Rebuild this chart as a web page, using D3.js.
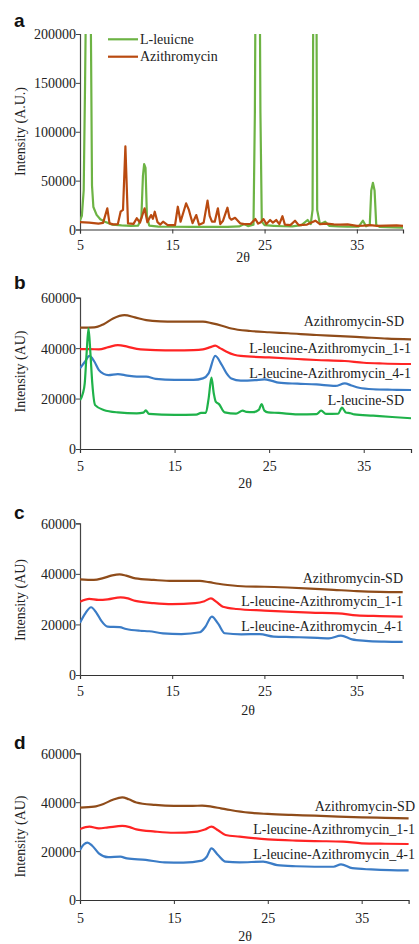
<!DOCTYPE html>
<html><head><meta charset="utf-8">
<script src="https://cdn.jsdelivr.net/npm/d3@7"></script>
<style>
body{margin:0;background:#fff}
svg{display:block}
text{fill:#222}
</style>
</head><body>
<svg id="chart" width="419" height="944"></svg>
<script>
// ---------- DATA ----------
const xTicks = [5, 15, 25, 35];
const yTicksA = [0, 50000, 100000, 150000, 200000];
const yTicksBCD = [0, 20000, 40000, 60000];
const legendA = ["L-leuicne", "Azithromycin"];
const labelsB = ["Azithromycin-SD", "L-leucine-Azithromycin_1-1", "L-leucine-Azithromycin_4-1", "L-leucine-SD"];
const labelsCD = ["Azithromycin-SD", "L-leucine-Azithromycin_1-1", "L-leucine-Azithromycin_4-1"];

// Panel a (values above 200000 are clipped at the top of the plot)
const leucineA = [[5,9000],[5.2,14000],[5.4,40000],[5.55,150000],[5.72,300000],[6.1,300000],[6.2,180000],[6.3,45000],[6.45,23000],[6.8,15000],[7.2,10500],[7.7,8000],[8.5,5000],[9.5,4200],[10.5,3800],[11.3,4000],[11.65,12000],[11.82,55000],[11.95,67000],[12.1,63000],[12.25,14000],[12.5,4000],[13.5,3000],[15,2800],[17,2700],[19,2600],[21,2600],[22.3,3200],[22.8,5500],[23.2,3500],[23.8,5000],[23.95,120000],[24.05,300000],[24.45,300000],[24.55,120000],[24.7,8000],[25,4500],[26,3800],[27,3300],[28,3200],[29,4500],[29.66,9700],[30,5500],[30.2,20000],[30.3,300000],[30.6,300000],[30.7,20000],[31,5500],[31.57,8000],[32,3800],[33,3200],[34,3000],[35.2,3000],[35.66,9000],[36,3300],[36.4,5000],[36.56,40000],[36.74,47800],[36.92,40000],[37.1,4500],[37.5,2600],[39,2200],[40,2000]];
const azithroA = [[5,7500],[6,7000],[7,6000],[7.5,6800],[7.96,21700],[8.2,6300],[8.6,5200],[9.1,5500],[9.4,18200],[9.66,20000],[9.92,85000],[10.2,6300],[10.8,5800],[11.15,11500],[11.5,7000],[12.0,21700],[12.3,7500],[12.7,14800],[12.9,11000],[13.1,18200],[13.4,7500],[13.7,5000],[14.0,8000],[14.5,4500],[15.3,4500],[15.6,23300],[15.9,8000],[16.28,20000],[16.5,26800],[16.8,20000],[17.0,13000],[17.2,6500],[17.6,14800],[17.9,4800],[18.4,7000],[18.82,29500],[19.05,14000],[19.3,8000],[19.6,8000],[19.94,21700],[20.2,5500],[20.5,9000],[20.98,22300],[21.2,12000],[21.4,10000],[21.8,12000],[22.1,9000],[22.35,6300],[22.8,5500],[23.5,5800],[24.0,10700],[24.3,6000],[24.6,7500],[24.88,10700],[25.2,5500],[25.6,9700],[25.9,7000],[26.26,9700],[26.6,5500],[26.94,13600],[27.2,5000],[27.8,4500],[28.3,9000],[28.7,4500],[29.6,5000],[30.5,9000],[31,5500],[31.75,6000],[32.5,5200],[33.2,5000],[34,5200],[35,3700],[35.7,4000],[36.45,4500],[37.2,3800],[38.2,4000],[39.3,4200],[40,3700]];

// Panel b
const azSDb = [[5,48100],[6.5,48200],[7.5,49500],[8.5,51800],[9.7,53100],[10.8,52200],[12,51100],[13.5,50600],[15,50500],[17,50500],[18,50500],[19,49800],[20,48900],[21,47800],[23,46800],[25,46300],[27,45900],[30,45200],[32.5,44800],[35,44300],[37.5,43800],[40,43500]];
const mix11b = [[5,39600],[6,39600],[7,39500],[8,40400],[9,41200],[10,40600],[11,39700],[13,39200],[15,39100],[17,39200],[18,39500],[18.8,40400],[19.3,41000],[19.8,40000],[20.5,38600],[21.3,37400],[22,36900],[25,36300],[28,35700],[30,35300],[33,34900],[35,34200],[37,33900],[40,33700]];
const mix41b = [[5,32000],[5.5,34500],[6,36900],[6.5,34800],[7,31300],[7.5,29800],[8,29300],[9,29700],[10,29100],[11,28700],[12,28700],[13,27800],[15,27400],[17,27400],[18,28000],[18.6,30000],[19.3,36900],[20,33300],[20.5,30000],[21,28000],[22,27100],[23.5,27300],[24.5,27600],[25.3,27000],[26,26300],[28,25900],[30,25600],[32,25000],[33,26000],[33.7,25200],[34.5,24300],[36,23700],[38,23500],[40,23400]];
const leuSDb = [[5,19400],[5.3,22000],[5.5,26000],[5.7,38000],[5.9,47800],[6.1,38000],[6.3,26000],[6.6,17400],[7.5,15500],[9,14500],[11,14100],[11.7,14400],[11.95,15300],[12.3,13900],[15,13500],[17.3,13600],[17.8,14300],[18.3,14300],[18.6,20000],[18.9,28300],[19.15,22000],[19.35,18800],[19.7,17800],[20.3,14500],[21.5,14000],[22.2,15200],[22.6,14700],[23.3,14600],[23.9,15500],[24.2,17800],[24.5,15200],[24.9,14500],[26,14300],[28,13700],[30,13800],[30.5,15200],[31,13900],[32.3,14000],[32.7,16400],[33.1,14500],[33.6,14200],[34,13700],[36,13200],[38,12700],[40,12200]];

// Panel c
const azSDc = [[5,37800],[6.5,37600],[7.5,38300],[8.5,39400],[9.3,39800],[10,39300],[11,38200],[13,37600],[15,37200],[17,37200],[18,37200],[19,36700],[20,36100],[21,35600],[23,35000],[25,34900],[27.5,34600],[30,34200],[32.5,33700],[35,33200],[37.5,32900],[40,32800]];
const mix11c = [[5,29000],[6,30100],[7,29700],[8,29900],[9.4,30700],[10.2,30300],[11,29300],[13,28400],[15,28000],[17.5,28400],[18.5,29200],[19.2,30300],[19.8,28900],[20.5,27000],[22,26100],[25,25500],[28,25000],[30,24700],[33,24400],[35,23600],[37.5,23300],[40,23100]];
const mix41c = [[5,20700],[5.6,24500],[6.2,26800],[6.8,24500],[7.3,21500],[8,19100],[9.3,18900],[10,18200],[11.5,17500],[12.5,17300],[14,16500],[16,16200],[18,16900],[18.6,19100],[19.3,23100],[20,20200],[20.7,16500],[22.5,16100],[24.5,16200],[26,15200],[28,15000],[30,14800],[32,14500],[33.3,15600],[34.5,14100],[36,13500],[38,13200],[40,13100]];

// Panel d
const azSDd = [[5,37800],[6.5,38200],[7.5,39300],[8.5,41000],[9.5,42000],[10.2,41200],[11,39900],[13,38900],[15,38500],[17,38500],[18,38600],[19,38200],[20,37500],[21,36800],[23,35700],[25,35200],[27.5,34800],[30,34500],[32.5,34100],[35,33800],[37.5,33600],[40,33400]];
const mix11d = [[5,29000],[6,30000],[7,29300],[8,29700],[9.5,30300],[10.3,29800],[11,28900],[13,28000],[15,27500],[17.5,28000],[18.3,28800],[19,30000],[19.7,28500],[20.5,26600],[22,25900],[25,24800],[28,24300],[30,24100],[33,23900],[35,23200],[37.5,23000],[40,22900]];
const mix41d = [[5,20500],[5.4,22700],[5.8,23500],[6.3,22200],[7,19100],[8,17500],[9.3,17700],[10,17000],[12,16400],[14,15400],[16,15300],[18,16100],[18.5,17700],[19,21100],[19.7,18400],[20.5,15700],[22,15400],[24.5,15700],[26,14300],[28,13800],[30,13600],[32,13600],[32.8,14600],[34,13000],[36,12500],[38,12200],[40,12100]];

// ---------- DRAW ----------
const SERIF = '"Liberation Serif","Times New Roman",Times,serif';
const SANS = '"Liberation Sans",Arial,Helvetica,sans-serif';
const svg = d3.select("#chart");
const COL = {
  greenA: "#6db344", brownA: "#b94a10",
  brown: "#8f4c1a", red: "#ff2424", blue: "#3b7cc6", green: "#1fb24a"
};

function txt(sel) {
  return sel.style("font-family", SERIF).style("font-size", "14px").style("fill", "#222");
}

function panel(cfg) {
  const x = d3.scaleLinear().domain([5, 40]).range([cfg.left, cfg.right]);
  const y = d3.scaleLinear().domain([0, cfg.yMax]).range([cfg.bottom, cfg.top]);
  const g = svg.append("g");
  const clipId = "clip-" + cfg.letter;
  svg.append("clipPath").attr("id", clipId).append("rect")
    .attr("x", cfg.left).attr("y", cfg.top).attr("width", cfg.right - cfg.left + 2).attr("height", cfg.bottom - cfg.top + 2);

  // axes
  const xAxis = d3.axisBottom(x).tickValues(xTicks).tickSize(4).tickFormat(d3.format("d"));
  const gx = g.append("g").attr("transform", `translate(0,${cfg.bottom})`).call(xAxis);
  gx.select(".domain").attr("stroke", "#333").attr("stroke-width", 1.2);
  gx.selectAll(".tick line").attr("stroke", "#333");
  txt(gx.selectAll(".tick text")).attr("dy", null).attr("y", cfg.xLabOff).attr("dominant-baseline", "central");

  const yAxis = d3.axisLeft(y).tickValues(cfg.yTicks).tickSize(4).tickFormat(d3.format("d"));
  const gy = g.append("g").attr("transform", `translate(${cfg.left},0)`).call(yAxis);
  gy.select(".domain").attr("stroke", "#444").attr("stroke-width", 1.2);
  gy.selectAll(".tick line").attr("stroke", "#444");
  txt(gy.selectAll(".tick text")).attr("x", -4).attr("dy", "0.35em");

  // titles
  txt(g.append("text")).attr("x", cfg.xTitleX).attr("y", cfg.bottom + cfg.xTitleOff)
    .attr("text-anchor", "middle").attr("dominant-baseline", "central").text("2θ");
  txt(g.append("text")).attr("transform", `translate(20,${cfg.yTitleY}) rotate(-90)`)
    .attr("text-anchor", "middle").attr("dominant-baseline", "central").text(cfg.yTitle);
  g.append("text").attr("x", 14).attr("y", cfg.letterY)
    .style("font-family", SANS).style("font-size", "19px").style("font-weight", "bold").style("fill", "#111")
    .text(cfg.letter);

  // series
  const line = d3.line().x(d => x(d[0])).y(d => y(d[1])).curve(cfg.curve);
  const lines = g.append("g").attr("clip-path", `url(#${clipId})`);
  cfg.series.forEach(s => {
    lines.append("path").datum(s.data).attr("fill", "none").attr("stroke", s.color)
      .attr("stroke-width", 2.2).attr("stroke-linejoin", "round").attr("d", line);
  });

  // series labels
  (cfg.labels || []).forEach(l => {
    txt(g.append("text")).attr("x", l.x).attr("y", l.y).attr("text-anchor", "end")
      .attr("dominant-baseline", "central").text(l.text);
  });
  return g;
}

// Panel a
const ga = panel({
  letter: "a", letterY: 27, left: 80, right: 403, top: 34, bottom: 229.5, yMax: 200000,
  yTicks: yTicksA, xLabOff: 15.5, xTitleOff: 27.5, xTitleX: 243, yTitleY: 131.5,
  yTitle: "Intensity (A.U.)", curve: d3.curveLinear,
  series: [{data: leucineA, color: COL.greenA}, {data: azithroA, color: COL.brownA}]
});
[[legendA[0], COL.greenA, 39.3], [legendA[1], COL.brownA, 56.7]].forEach(([t, c, yy]) => {
  ga.append("line").attr("x1", 108).attr("x2", 138).attr("y1", yy).attr("y2", yy)
    .attr("stroke", c).attr("stroke-width", 2.2);
  txt(ga.append("text")).attr("x", 140).attr("y", yy).attr("dominant-baseline", "central").text(t);
});

// Panel b
panel({
  letter: "b", letterY: 289, left: 80, right: 411, top: 297.7, bottom: 449, yMax: 60000,
  yTicks: yTicksBCD, xLabOff: 17.5, xTitleOff: 34, xTitleX: 245, yTitleY: 371.5,
  yTitle: "Intensity (AU)", curve: d3.curveMonotoneX,
  series: [{data: azSDb, color: COL.brown}, {data: mix11b, color: COL.red},
           {data: mix41b, color: COL.blue}, {data: leuSDb, color: COL.green}],
  labels: [{text: labelsB[0], x: 404, y: 321}, {text: labelsB[1], x: 411, y: 348.3},
           {text: labelsB[2], x: 411, y: 373}, {text: labelsB[3], x: 404, y: 400}]
});

// Panel c
panel({
  letter: "c", letterY: 518.5, left: 80, right: 402.7, top: 523.3, bottom: 675, yMax: 60000,
  yTicks: yTicksBCD, xLabOff: 16, xTitleOff: 35, xTitleX: 248, yTitleY: 600,
  yTitle: "Intensity (AU)", curve: d3.curveMonotoneX,
  series: [{data: azSDc, color: COL.brown}, {data: mix11c, color: COL.red}, {data: mix41c, color: COL.blue}],
  labels: [{text: labelsCD[0], x: 403, y: 578}, {text: labelsCD[1], x: 403, y: 601},
           {text: labelsCD[2], x: 403, y: 626}]
});

// Panel d
panel({
  letter: "d", letterY: 748.5, left: 80, right: 408.6, top: 753.3, bottom: 900, yMax: 60000,
  yTicks: yTicksBCD, xLabOff: 18.3, xTitleOff: 36, xTitleX: 245, yTitleY: 836.5,
  yTitle: "Intensity (AU)", curve: d3.curveMonotoneX,
  series: [{data: azSDd, color: COL.brown}, {data: mix11d, color: COL.red}, {data: mix41d, color: COL.blue}],
  labels: [{text: labelsCD[0], x: 415, y: 806}, {text: labelsCD[1], x: 415, y: 829},
           {text: labelsCD[2], x: 415, y: 854}]
});
</script>
</body></html>
